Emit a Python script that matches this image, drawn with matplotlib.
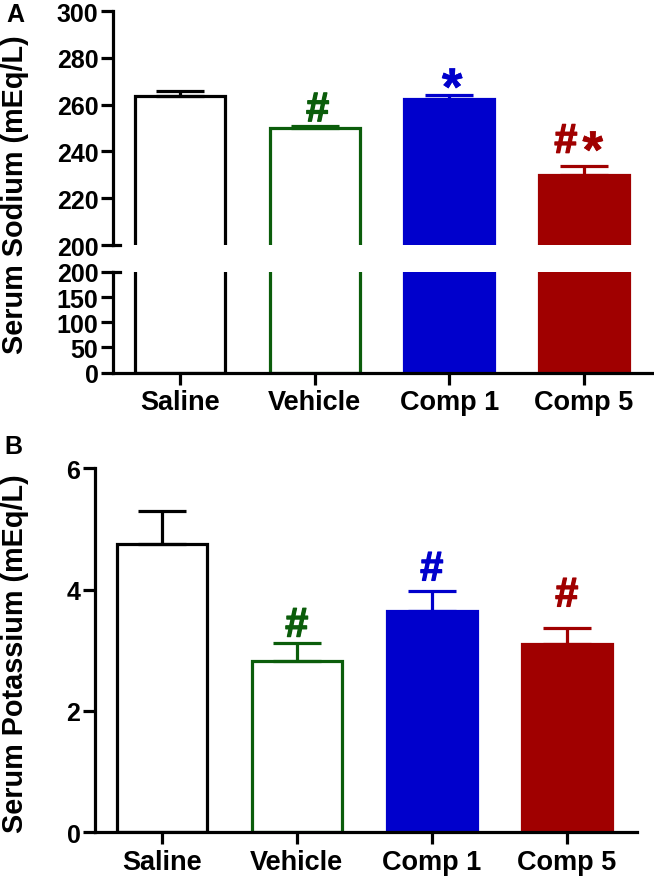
"""Serum sodium / potassium bar charts, panel A has a broken y axis."""

import matplotlib

matplotlib.use("Agg")
import matplotlib.patheffects as pe
import matplotlib.pyplot as plt
from matplotlib.ticker import FixedLocator

plt.rcParams["font.family"] = ["Liberation Sans", "DejaVu Sans"]
plt.rcParams["font.weight"] = "bold"

groups = ["Saline", "Vehicle", "Comp 1", "Comp 5"]
edge_colors = ["#000000", "#0B5D0B", "#0000CC", "#A00000"]
face_colors = ["#FFFFFF", "#FFFFFF", "#0000CC", "#A00000"]

sodium_mean = [263.7, 250.0, 262.3, 230.0]
sodium_err = [2.3, 1.0, 1.7, 3.7]
sodium_ticks_high = [200, 220, 240, 260, 280, 300]
sodium_ticks_low = [0, 50, 100, 150, 200]

potassium_mean = [4.75, 2.83, 3.65, 3.10]
potassium_err = [0.55, 0.29, 0.33, 0.27]
potassium_ticks = [0, 2, 4, 6]

W, H = 654, 878
LW = 2.3
PX = 0.72  # points per pixel at dpi 100


def px_axes(fig, left, right, top, bottom):
    return fig.add_axes([left / W, 1 - bottom / H, (right - left) / W, (bottom - top) / H])


def style_axis(ax):
    ax.patch.set_alpha(0)
    for side in ("top", "right"):
        ax.spines[side].set_visible(False)
    for side in ("left", "bottom"):
        ax.spines[side].set_linewidth(LW)
    ax.tick_params(axis="y", length=8.5, width=LW, labelsize=18, pad=2)
    ax.tick_params(axis="x", length=8.5, width=LW, labelsize=19.5, pad=3.5)


def draw_bars(ax, means, errs):
    xs = range(len(groups))
    ax.bar(xs, means, width=0.668, color=face_colors, edgecolor=edge_colors, linewidth=LW)
    for x, mean, err, color in zip(xs, means, errs, edge_colors):
        ax.errorbar(x, mean, yerr=[[0], [err]], color=color, elinewidth=LW,
                    capsize=17, capthick=LW)


def draw_mark(ax, i, value, mark, dx, dy):
    """Put # or * above a bar; dx, dy are the glyph centre offset in pixels."""
    size, mid = (30, 0.35) if mark == "#" else (38, 0.56)
    stroke = 0.9 if mark == "#" else 0.4
    lift = dy * PX - mid * size
    ax.annotate(mark, (i, value), xytext=(dx * PX, lift), textcoords="offset points",
                ha="center", va="baseline", color=edge_colors[i], fontsize=size,
                annotation_clip=False,
                path_effects=[pe.withStroke(linewidth=stroke, foreground=edge_colors[i])])


fig = plt.figure(figsize=(W / 100, H / 100), dpi=100)

# panel A, upper part of the broken axis
pitch_a = 134.6
xlim_a = ((113 - 180) / pitch_a, (652 - 180) / pitch_a)
ax_high = px_axes(fig, 113, 652, 12, 246)
draw_bars(ax_high, sodium_mean, sodium_err)
ax_high.set_xlim(xlim_a)
ax_high.set_ylim(200, 300)
draw_mark(ax_high, 1, sodium_mean[1] + sodium_err[1], "#", 3, 19)
draw_mark(ax_high, 2, sodium_mean[2] + sodium_err[2], "*", 3, 20)
draw_mark(ax_high, 3, sodium_mean[3] + sodium_err[3], "#", -18, 28)
draw_mark(ax_high, 3, sodium_mean[3] + sodium_err[3], "*", 9, 28)
style_axis(ax_high)
ax_high.spines["bottom"].set_visible(False)
ax_high.yaxis.set_major_locator(FixedLocator(sodium_ticks_high))
ax_high.set_xticks([])
ax_high.plot([0, 7 / 539], [200, 200], color="black", lw=LW,
             transform=ax_high.get_yaxis_transform(), clip_on=False)

# panel A, lower part
ax_low = px_axes(fig, 113, 652, 273, 373.5)
draw_bars(ax_low, sodium_mean, sodium_err)
ax_low.set_xlim(xlim_a)
ax_low.set_ylim(0, 200)
style_axis(ax_low)
ax_low.yaxis.set_major_locator(FixedLocator(sodium_ticks_low))
ax_low.set_xticks(range(len(groups)), groups)
ax_low.plot([0, 7 / 539], [200, 200], color="black", lw=LW,
            transform=ax_low.get_yaxis_transform(), clip_on=False)

# panel B
pitch_b = 135.0
ax_k = px_axes(fig, 95, 637, 469.3, 833.3)
draw_bars(ax_k, potassium_mean, potassium_err)
ax_k.set_xlim((95 - 161.7) / pitch_b, (637 - 161.7) / pitch_b)
ax_k.set_ylim(0, 6)
draw_mark(ax_k, 1, potassium_mean[1] + potassium_err[1], "#", 0, 21)
draw_mark(ax_k, 2, potassium_mean[2] + potassium_err[2], "#", 0, 25)
draw_mark(ax_k, 3, potassium_mean[3] + potassium_err[3], "#", 0, 36)
style_axis(ax_k)
ax_k.yaxis.set_major_locator(FixedLocator(potassium_ticks))
ax_k.set_xticks(range(len(groups)), groups)

fig.text(15 / W, 1 - 195 / H, "Serum Sodium (mEq/L)", rotation=90, ha="center", va="center", fontsize=20.8)
fig.text(15 / W, 1 - 654 / H, "Serum Potassium (mEq/L)", rotation=90, ha="center", va="center", fontsize=20.8)
fig.text(15.6 / W, 1 - 15 / H, "A", ha="center", va="center", fontsize=18)
fig.text(13 / W, 1 - 447 / H, "B", ha="center", va="center", fontsize=18)

fig.savefig("out.png", dpi=100)
